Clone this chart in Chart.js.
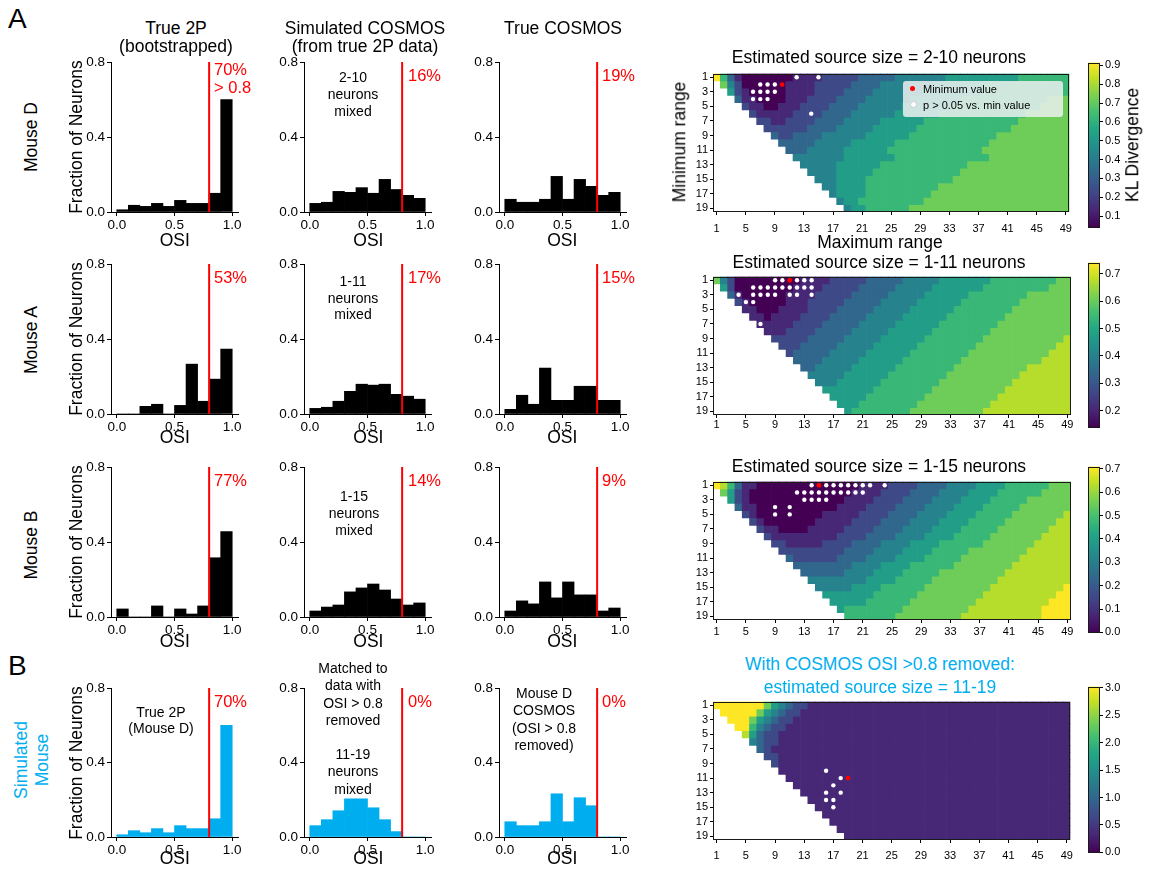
<!DOCTYPE html>
<html>
<head>
<meta charset="utf-8">
<script src="https://cdn.jsdelivr.net/npm/chart.js@4.4.1/dist/chart.umd.min.js"></script>
<style>
  body { margin: 0; background: #fff; }
  #fig { position: relative; width: 1158px; height: 875px; overflow: hidden; font-family: 'Liberation Sans', Arial, sans-serif; }
  .t { position: absolute; white-space: nowrap; line-height: 1; }
</style>
</head>
<body>
<div id="fig"></div>
<script>
// OSI histogram bins (centres of 0-0.1 ... 0.9-1.0)
const osiBins = [0.05, 0.15, 0.25, 0.35, 0.45, 0.55, 0.65, 0.75, 0.85, 0.95];
const osiTicks = [0, 0.5, 1];
const fracTicks = [0, 0.4, 0.8];

// fraction of neurons per bin
const mouseD_2p     = [0.012, 0.036, 0.030, 0.046, 0.030, 0.062, 0.046, 0.046, 0.100, 0.600];
const mouseD_simCos = [0.046, 0.052, 0.110, 0.105, 0.130, 0.100, 0.174, 0.120, 0.089, 0.073];
const mouseD_cosmos = [0.068, 0.052, 0.052, 0.068, 0.190, 0.068, 0.174, 0.137, 0.089, 0.105];
const mouseA_2p     = [0, 0, 0.041, 0.052, 0, 0.046, 0.266, 0.068, 0.186, 0.346];
const mouseA_simCos = [0.030, 0.036, 0.068, 0.121, 0.159, 0.154, 0.159, 0.105, 0.095, 0.079];
const mouseA_cosmos = [0.025, 0.100, 0.052, 0.245, 0.073, 0.073, 0.148, 0.148, 0.073, 0.073];
const mouseB_2p     = [0.043, 0, 0, 0.059, 0, 0.043, 0.016, 0.059, 0.316, 0.455];
const mouseB_simCos = [0.032, 0.053, 0.064, 0.134, 0.155, 0.176, 0.144, 0.096, 0.064, 0.075];
const mouseB_cosmos = [0.032, 0.086, 0.070, 0.187, 0.102, 0.187, 0.118, 0.118, 0.032, 0.048];
const simMouse_2p     = [0.012, 0.034, 0.023, 0.045, 0.023, 0.061, 0.045, 0.045, 0.098, 0.600];
const simMouse_matched = [0.061, 0.093, 0.141, 0.205, 0.205, 0.157, 0.093, 0.029, 0, 0];
const simMouse_cosmos = [0.082, 0.061, 0.061, 0.082, 0.232, 0.082, 0.211, 0.168, 0, 0];

// KL divergence maps: one string per minimum range (rows 1..19), one char per maximum range (cols 1..49)
// digit = level 0..9 across the colour bar range, '.' = no value
const maxRangeTicks = [1, 5, 9, 13, 17, 21, 25, 29, 33, 37, 41, 45, 49];
const minRangeTicks = [1, 3, 5, 7, 9, 11, 13, 15, 17, 19];

const klMouseD = [
  "9631 0000 0001 1112 2222 3333 3444 4444 5555 5555 5566 6666 6",
  ".742 0000 0011 1122 2223 3334 4444 4455 5555 5566 6666 6666 6",
  "..52 1000 0011 1122 2233 3344 4444 4555 5555 5666 6666 6666 6",
  "...3 1100 0011 1222 2333 3444 4445 5555 5566 6666 6666 6677 7",
  ".... 2110 0111 2222 3333 4444 4455 5555 5666 6666 6666 6777 7",
  ".... .211 1112 2223 3334 4444 4555 5556 6666 6666 6667 7777 7",
  ".... ..22 1122 2233 3344 4445 5555 5666 6666 6666 6677 7777 7",
  ".... ...2 2222 2333 3444 4455 5555 6666 6666 6666 6777 7777 7",
  ".... .... 3223 3334 4444 4555 5556 6666 6666 6667 7777 7777 7",
  ".... .... .333 3344 4445 5555 5666 6666 6666 6677 7777 7777 7",
  ".... .... ..33 3444 4455 5555 6666 6666 6666 6777 7777 7777 7",
  ".... .... ...4 4444 4455 5555 5666 6666 6666 6677 7777 7777 7",
  ".... .... .... 4444 4555 5556 6666 6666 6667 7777 7777 7777 7",
  ".... .... .... .444 4555 5566 6666 6666 6677 7777 7777 7777 7",
  ".... .... .... ..44 4555 5666 6666 6666 6777 7777 7777 7777 7",
  ".... .... .... ...4 4555 5666 6666 6667 7777 7777 7777 7777 7",
  ".... .... .... .... 4555 5666 6666 6677 7777 7777 7777 7777 7",
  ".... .... .... .... .455 6666 6666 6777 7777 7777 7777 7777 7",
  ".... .... .... .... ..45 5666 6667 7777 7777 7777 7777 7777 7"
];
const klMouseA = [
  "7420 0000 0000 1111 2222 2333 3344 4445 5555 5566 6666 6667 7",
  ".520 0000 0001 1112 2222 3333 3444 4455 5555 5666 6666 6677 7",
  "..31 0000 0011 1122 2223 3333 4444 4555 5556 6666 6667 7777 7",
  "...2 1000 0011 1222 2233 3334 4444 5555 5566 6666 6677 7777 7",
  ".... 1100 0111 1222 2333 3344 4445 5555 5666 6666 6777 7777 7",
  ".... .110 1111 2222 3333 3444 4455 5555 6666 6666 7777 7777 7",
  ".... ..11 1112 2223 3333 4444 4555 5556 6666 6667 7777 7777 7",
  ".... ...1 1122 2233 3334 4444 5555 5566 6666 6677 7777 7777 7",
  ".... .... 2222 2333 3344 4445 5555 5666 6666 6777 7777 7777 8",
  ".... .... .222 3333 3444 4455 5555 6666 6666 7777 7777 7778 8",
  ".... .... ..23 3333 4444 4555 5556 6666 6667 7777 7777 7788 8",
  ".... .... ...3 3334 4444 5555 5566 6666 6677 7777 7777 7888 8",
  ".... .... .... 3344 4445 5555 5666 6666 6777 7777 7778 8888 8",
  ".... .... .... .444 4455 5555 6666 6666 7777 7777 7788 8888 8",
  ".... .... .... ..44 4555 5556 6666 6667 7777 7777 7888 8888 8",
  ".... .... .... ...5 5555 5566 6666 6677 7777 7777 8888 8888 8",
  ".... .... .... .... 5555 5666 6666 6777 7777 7778 8888 8888 8",
  ".... .... .... .... .555 6666 6666 7777 7777 7788 8888 8888 8",
  ".... .... .... .... ..56 6666 6667 7777 7777 7888 8888 8888 8"
];
const klMouseB = [
  "9863 1100 0000 0000 0000 1111 2222 3333 4444 5555 6666 6677 7",
  ".752 1000 0000 0000 0001 1112 2223 3334 4445 5556 6666 6777 7",
  "..52 1000 0000 0000 0011 1122 2233 3344 4455 5566 6667 7777 7",
  "...3 1100 0000 0000 0111 1222 2333 3444 4555 5666 6677 7777 7",
  ".... 2100 0000 0001 1111 2222 3333 4444 5555 6666 6777 7777 8",
  ".... .210 0000 0011 1112 2223 3334 4445 5556 6666 7777 7778 8",
  ".... ..21 1000 0111 1122 2233 3344 4455 5566 6667 7777 7788 8",
  ".... ...2 1111 1111 1222 2333 3444 4555 5666 6677 7777 7888 8",
  ".... .... 2211 1112 2223 3334 4445 5556 6666 6777 7777 8888 8",
  ".... .... .222 2222 2233 3344 4455 5566 6667 7777 7778 8888 8",
  ".... .... ..32 2222 2333 3444 4555 5666 6677 7777 7788 8888 8",
  ".... .... ...3 3333 3334 4445 5556 6666 6777 7777 7888 8888 8",
  ".... .... .... 3333 3344 4455 5566 6667 7777 7777 8888 8888 8",
  ".... .... .... .444 4444 4555 5666 6677 7777 7778 8888 8888 8",
  ".... .... .... ..44 4445 5556 6666 6777 7777 7788 8888 8888 9",
  ".... .... .... ...5 5555 5566 6666 7777 7777 7888 8888 8889 9",
  ".... .... .... .... 5555 5666 6667 7777 7777 8888 8888 8899 9",
  ".... .... .... .... .566 6666 6677 7777 7778 8888 8888 8999 9",
  ".... .... .... .... ..66 6666 6777 7777 7788 8888 8888 8999 9"
];
const klSimMouse = [
  "9999 9997 5432 2111 1111 1111 1111 1111 1111 1111 1111 1111 1",
  ".999 9975 4322 1111 1111 1111 1111 1111 1111 1111 1111 1111 1",
  "..99 9754 3221 1111 1111 1111 1111 1111 1111 1111 1111 1111 1",
  "...9 9643 2211 1111 1111 1111 1111 1111 1111 1111 1111 1111 1",
  ".... 8532 2111 1111 1111 1111 1111 1111 1111 1111 1111 1111 1",
  ".... .432 2111 1111 1111 1111 1111 1111 1111 1111 1111 1111 1",
  ".... ..32 1111 1111 1111 1111 1111 1111 1111 1111 1111 1111 1",
  ".... ...2 2111 1111 1111 1111 1111 1111 1111 1111 1111 1111 1",
  ".... .... 2111 1111 1111 1111 1111 1111 1111 1111 1111 1111 1",
  ".... .... .111 1111 1111 1111 1111 1111 1111 1111 1111 1111 1",
  ".... .... ..11 1111 1111 1111 1111 1111 1111 1111 1111 1111 1",
  ".... .... ...1 1111 1111 1111 1111 1111 1111 1111 1111 1111 1",
  ".... .... .... 1111 1111 1111 1111 1111 1111 1111 1111 1111 1",
  ".... .... .... .111 1111 1111 1111 1111 1111 1111 1111 1111 1",
  ".... .... .... ..11 1111 1111 1111 1111 1111 1111 1111 1111 1",
  ".... .... .... ...1 1111 1111 1111 1111 1111 1111 1111 1111 1",
  ".... .... .... .... 1111 1111 1111 1111 1111 1111 1111 1111 1",
  ".... .... .... .... .111 1111 1111 1111 1111 1111 1111 1111 1",
  ".... .... .... .... ..11 1111 1111 1111 1111 1111 1111 1111 1"
];

// [max range, min range] of cells with p > 0.05 vs. min value, and the minimum
const dotsD = [[12,1],[15,1],[7,2],[8,2],[9,2],[6,3],[7,3],[8,3],[9,3],[6,4],[7,4],[8,4],[14,6]];
const minD = [10, 2];
const dotsA = [[9,1],[10,1],[12,1],[13,1],[14,1],[6,2],[7,2],[8,2],[9,2],[10,2],[11,2],[12,2],[13,2],[14,2],[4,3],[6,3],[7,3],[8,3],[9,3],[11,3],[12,3],[14,3],[5,4],[6,4],[7,7]];
const minA = [11, 1];
const dotsB = [[14,1],[16,1],[17,1],[18,1],[19,1],[20,1],[21,1],[22,1],[24,1],[12,2],[13,2],[14,2],[15,2],[16,2],[17,2],[18,2],[19,2],[20,2],[21,2],[13,3],[14,3],[15,3],[16,3],[9,4],[11,4],[9,5],[11,5]];
const minB = [15, 1];
const dotsSim = [[16,10],[18,11],[17,12],[16,13],[18,13],[16,14],[17,14],[17,15]];
const minSim = [19, 11];

Chart.defaults.animation = false;
Chart.defaults.events = [];
Chart.defaults.font.family = "'Liberation Sans', Arial, sans-serif";
Chart.defaults.color = '#000';
Chart.defaults.plugins.legend.display = false;
Chart.defaults.plugins.tooltip.enabled = false;

const RED = '#ff0000';
const BLUE = '#00aeef';
const fig = document.getElementById('fig');

function addCanvas(left, top, w, h) {
  const c = document.createElement('canvas');
  c.width = Math.round(w); c.height = Math.round(h);
  c.style.cssText = `position:absolute;left:${Math.round(left)}px;top:${Math.round(top)}px;width:${Math.round(w)}px;height:${Math.round(h)}px`;
  fig.appendChild(c);
  return c;
}

// text placed by its baseline
function txt(s, x, base, size, opt = {}) {
  const d = document.createElement('div');
  d.className = 't';
  d.textContent = s;
  d.style.fontSize = size + 'px';
  d.style.color = opt.color || '#000';
  d.style.top = (base - 0.85 * size) + 'px';
  d.style.left = x + 'px';
  if (opt.align !== 'left') d.style.transform = 'translateX(-50%)';
  fig.appendChild(d);
}
function lines(arr, x, base, size, gap, opt) {
  arr.forEach((s, i) => txt(s, x, base + i * gap, size, opt));
}
function vtxt(s, cx, cy, size, color) {
  const d = document.createElement('div');
  d.className = 't';
  d.textContent = s;
  d.style.fontSize = size + 'px';
  d.style.color = color || '#000';
  d.style.left = cx + 'px';
  d.style.top = cy + 'px';
  d.style.transform = 'translate(-50%,-50%) rotate(-90deg)';
  fig.appendChild(d);
}

const fixedTicks = vals => s => { s.ticks = vals.map(v => ({ value: v })); };

function hist(area, values, color) {
  const [L, T, R, B] = area;
  const PL = 50, PT = 14, PR = 16, PB = 30;
  const cv = addCanvas(L - PL, T - PT, R - L + PL + PR, B - T + PT + PB);
  new Chart(cv, {
    type: 'bar',
    data: {
      datasets: [
        { type: 'line', data: [{ x: 0.8, y: 0 }, { x: 0.8, y: 0.8 }], borderColor: RED, borderWidth: 2, pointRadius: 0, order: 0 },
        { data: osiBins.map((x, i) => ({ x: x, y: values[i] })), backgroundColor: color, barPercentage: 1, categoryPercentage: 1, order: 1 }
      ]
    },
    options: {
      responsive: false,
      layout: { padding: { left: 0, top: PT, right: PR, bottom: 0 } },
      scales: {
        x: {
          type: 'linear', min: -0.05, max: 1.05, offset: false,
          afterBuildTicks: fixedTicks(osiTicks),
          afterFit: s => { s.height = PB; },
          ticks: { callback: v => v.toFixed(1), font: { size: 13.5 }, padding: 1, maxRotation: 0, autoSkip: false },
          grid: { offset: false, drawOnChartArea: false, tickLength: 4, color: '#000' },
          border: { color: '#000' }
        },
        y: {
          min: 0, max: 0.8,
          afterBuildTicks: fixedTicks(fracTicks),
          afterFit: s => { s.width = PL; },
          ticks: { callback: v => v.toFixed(1), font: { size: 13.5 }, padding: 2 },
          grid: { drawOnChartArea: false, tickLength: 4, color: '#000' },
          border: { color: '#000' }
        }
      }
    }
  });
}

const VIR = ['#440154', '#482475', '#414487', '#355f8d', '#2a788e', '#21918c', '#22a884', '#44bf70', '#7ad151', '#bddf26', '#fde725'];
function viridis(t) {
  t = Math.max(0, Math.min(1, t)) * (VIR.length - 1);
  const i = Math.min(Math.floor(t), VIR.length - 2), f = t - i;
  const a = VIR[i], b = VIR[i + 1];
  const ch = k => Math.round(parseInt(a.substr(k, 2), 16) * (1 - f) + parseInt(b.substr(k, 2), 16) * f);
  return `rgb(${ch(1)},${ch(3)},${ch(5)})`;
}

const frame = {
  id: 'frame',
  afterDatasetsDraw(chart) {
    const a = chart.chartArea, ctx = chart.ctx;
    ctx.save(); ctx.strokeStyle = '#1a1a1a'; ctx.lineWidth = 1;
    ctx.strokeRect(Math.round(a.left) + 0.5, Math.round(a.top) + 0.5, Math.round(a.right - a.left) - 1, Math.round(a.bottom - a.top) - 1);
    ctx.restore();
  }
};

function heatmap(area, rows, lo, hi, dots, minDot, tickPad) {
  const [L, T, R, B] = area;
  const PL = 24, PT = 8, PR = 8, PB = 28;
  const cv = addCanvas(L - PL, T - PT, R - L + PL + PR, B - T + PT + PB);
  const datasets = [
    { type: 'scatter', data: dots.map(d => ({ x: d[0], y: d[1] })), backgroundColor: '#ffffff', borderWidth: 0, pointRadius: 2.2, order: 0 },
    { type: 'scatter', data: [{ x: minDot[0], y: minDot[1] }], backgroundColor: RED, borderWidth: 0, pointRadius: 2.4, order: 0 }
  ];
  rows.forEach((row, ri) => {
    const cells = row.replace(/ /g, '');
    const data = [], colors = [];
    for (let c = 0; c < cells.length; c++) {
      if (cells[c] === '.') continue;
      const v = lo + (+cells[c]) / 9 * (hi - lo);
      data.push({ x: c + 1, y: [ri + 0.5, ri + 1.5] });
      colors.push(viridis((v - lo) / (hi - lo)));
    }
    datasets.push({ type: 'bar', data, backgroundColor: colors, grouped: false, barPercentage: 1, categoryPercentage: 1, order: 1 });
  });
  new Chart(cv, {
    type: 'bar',
    data: { datasets },
    options: {
      responsive: false,
      layout: { padding: { left: 0, top: PT, right: PR, bottom: 0 } },
      scales: {
        x: {
          type: 'linear', min: 0.5, max: 49.5, offset: false,
          afterBuildTicks: fixedTicks(maxRangeTicks),
          afterFit: s => { s.height = PB; },
          ticks: { font: { size: 11 }, padding: tickPad, maxRotation: 0, autoSkip: false },
          grid: { offset: false, drawOnChartArea: false, tickLength: 3, color: '#000' },
          border: { display: false }
        },
        y: {
          min: 0.5, max: 19.5, reverse: true,
          afterBuildTicks: fixedTicks(minRangeTicks),
          afterFit: s => { s.width = PL; },
          ticks: { font: { size: 11 }, padding: 2, autoSkip: false },
          grid: { drawOnChartArea: false, tickLength: 3, color: '#000' },
          border: { display: false }
        }
      }
    },
    plugins: [frame]
  });
}

function colorbar(area, lo, hi, ticks, dec) {
  const [L, T, R, B] = area;
  const PT = 8, PR = 34, PB = 8;
  const cv = addCanvas(L, T - PT, R - L + PR, B - T + PT + PB);
  new Chart(cv, {
    type: 'bar',
    data: { labels: [''], datasets: [] },
    options: {
      responsive: false,
      layout: { padding: { left: 0, top: PT, right: 0, bottom: PB } },
      scales: {
        x: { display: false },
        y: {
          position: 'right', min: lo, max: hi,
          afterBuildTicks: fixedTicks(ticks),
          afterFit: s => { s.width = PR; },
          ticks: { callback: v => v.toFixed(dec), font: { size: 11 }, padding: 2, autoSkip: false },
          grid: { drawOnChartArea: false, tickLength: 3, color: '#000' },
          border: { display: false }
        }
      }
    },
    plugins: [{
      id: 'ramp',
      beforeDatasetsDraw(chart) {
        const a = chart.chartArea, ctx = chart.ctx, y = chart.scales.y;
        const g = ctx.createLinearGradient(0, y.getPixelForValue(lo), 0, y.getPixelForValue(hi));
        VIR.forEach((c, i) => g.addColorStop(i / (VIR.length - 1), c));
        ctx.save();
        ctx.fillStyle = g;
        ctx.fillRect(a.left, a.top, a.right - a.left, a.bottom - a.top);
        ctx.restore();
      }
    }, frame]
  });
}

// ---------- histograms ----------
const colX = [[111, 237.5], [304.2, 431.5], [498.5, 625]];
const rowY = [[62, 212], [264, 414], [467, 617], [688, 837]];
const osiBase = [247, 444, 648, 865];
const A = (c, r) => [colX[c][0], rowY[r][0], colX[c][1], rowY[r][1]];

hist(A(0, 0), mouseD_2p, '#000');
hist(A(1, 0), mouseD_simCos, '#000');
hist(A(2, 0), mouseD_cosmos, '#000');
hist(A(0, 1), mouseA_2p, '#000');
hist(A(1, 1), mouseA_simCos, '#000');
hist(A(2, 1), mouseA_cosmos, '#000');
hist(A(0, 2), mouseB_2p, '#000');
hist(A(1, 2), mouseB_simCos, '#000');
hist(A(2, 2), mouseB_cosmos, '#000');
hist(A(0, 3), simMouse_2p, BLUE);
hist(A(1, 3), simMouse_matched, BLUE);
hist(A(2, 3), simMouse_cosmos, BLUE);

// ---------- heatmaps ----------
heatmap([713, 73.3, 1071, 212.6], klMouseD, 0.06, 0.92, dotsD, minD, 7);
heatmap([713, 275.5, 1071, 414.5], klMouseA, 0.14, 0.74, dotsA, minA, 0);
heatmap([713, 480.5, 1071, 619.5], klMouseB, 0, 0.71, dotsB, minB, 2);
heatmap([713, 700.5, 1071, 839.5], klSimMouse, 0, 3.05, dotsSim, minSim, 6);

colorbar([1088, 62, 1100, 228], 0.04, 0.915, [0.1, 0.2, 0.3, 0.4, 0.5, 0.6, 0.7, 0.8, 0.9], 1);
colorbar([1088, 262, 1100, 428], 0.14, 0.74, [0.2, 0.3, 0.4, 0.5, 0.6, 0.7], 1);
colorbar([1088, 466, 1100, 633], 0, 0.71, [0, 0.1, 0.2, 0.3, 0.4, 0.5, 0.6, 0.7], 1);
colorbar([1088, 686, 1100, 853], 0, 3.02, [0, 0.5, 1, 1.5, 2, 2.5, 3], 1);

// ---------- text ----------
const F = 17.5;
txt('A', 8, 29, 28, { align: 'left' });
txt('B', 8, 676, 28, { align: 'left' });
lines(['True 2P', '(bootstrapped)'], 176, 35, F, 18);
lines(['Simulated COSMOS', '(from true 2P data)'], 365, 35, F, 18);
txt('True COSMOS', 563, 35, F);

vtxt('Mouse D', 32, 137, F);
vtxt('Mouse A', 32, 340, F);
vtxt('Mouse B', 32, 545, F);
vtxt('Simulated', 22, 760, F, BLUE);
vtxt('Mouse', 43, 760, F, BLUE);

rowY.forEach(([t, b], r) => {
  vtxt('Fraction of Neurons', 77, (t + b) / 2, F);
  colX.forEach(([l, rr]) => txt('OSI', (l + rr) / 2 + 0.5, osiBase[r], F));
});

// percentage above OSI 0.8
const pctX = [214, 408, 602];
txt('70%', pctX[0], 75, 16.5, { color: RED, align: 'left' });
txt('> 0.8', pctX[0], 93, 16.5, { color: RED, align: 'left' });
txt('16%', pctX[1], 81, 16.5, { color: RED, align: 'left' });
txt('19%', pctX[2], 81, 16.5, { color: RED, align: 'left' });
txt('53%', pctX[0], 283, 16.5, { color: RED, align: 'left' });
txt('17%', pctX[1], 283, 16.5, { color: RED, align: 'left' });
txt('15%', pctX[2], 283, 16.5, { color: RED, align: 'left' });
txt('77%', pctX[0], 486, 16.5, { color: RED, align: 'left' });
txt('14%', pctX[1], 486, 16.5, { color: RED, align: 'left' });
txt('9%', pctX[2], 486, 16.5, { color: RED, align: 'left' });
txt('70%', pctX[0], 707, 16.5, { color: RED, align: 'left' });
txt('0%', pctX[1], 707, 16.5, { color: RED, align: 'left' });
txt('0%', pctX[2], 707, 16.5, { color: RED, align: 'left' });

lines(['2-10', 'neurons', 'mixed'], 353, 82, 14, 17);
lines(['1-11', 'neurons', 'mixed'], 353, 286, 14, 16.5);
lines(['1-15', 'neurons', 'mixed'], 354, 501, 14, 17);
lines(['True 2P', '(Mouse D)'], 161, 717, 14, 16);
lines(['Matched to', 'data with', 'OSI > 0.8', 'removed'], 353, 673, 14, 17.2);
lines(['11-19', 'neurons', 'mixed'], 353, 759, 14, 17.2);
lines(['Mouse D', 'COSMOS', '(OSI > 0.8', 'removed)'], 544, 698, 14, 17.2);

// heatmap titles and axes
txt('Estimated source size = 2-10 neurons', 879, 64, F);
txt('Estimated source size = 1-11 neurons', 879, 269, F);
txt('Estimated source size = 1-15 neurons', 879, 473, F);
txt('With COSMOS OSI >0.8 removed:', 880, 671, F, { color: BLUE });
txt('estimated source size = 11-19', 880, 694, F, { color: BLUE });
vtxt('Minimum range', 680, 142, F);
txt('Maximum range', 880, 249, F);
vtxt('KL Divergence', 1133, 145, F);

// legend box in first map
const lg = document.createElement('div');
lg.style.cssText = 'position:absolute;left:903px;top:81px;width:160px;height:36px;background:rgba(235,240,240,0.85);border-radius:3px;font-size:11px;line-height:1;';
lg.innerHTML = '<div style="position:absolute;left:7px;top:5px;width:5px;height:5px;border-radius:50%;background:#f00"></div>' +
  '<div style="position:absolute;left:20px;top:3px">Minimum value</div>' +
  '<div style="position:absolute;left:7px;top:20px;width:5px;height:5px;border-radius:50%;background:#fff;border:0.5px solid #ccc"></div>' +
  '<div style="position:absolute;left:20px;top:19px">p &gt; 0.05 vs. min value</div>';
fig.appendChild(lg);
</script>
</body>
</html>
